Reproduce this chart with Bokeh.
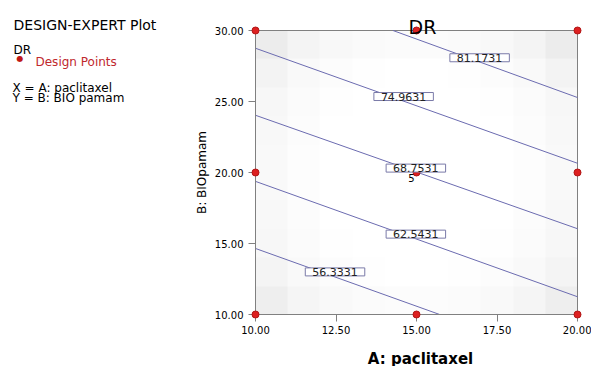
import numpy as np
from bokeh.plotting import figure
from bokeh.models import Label, Range1d, FixedTicker, NumeralTickFormatter, LinearAxis
from bokeh.embed import file_html
from bokeh.resources import INLINE

# ---- data ----
x_ticks = [10.0, 12.5, 15.0, 17.5, 20.0]
y_ticks = [10.0, 15.0, 20.0, 25.0, 30.0]
design_x = [10, 15, 20, 10, 15, 20, 10, 15, 20]
design_y = [10, 10, 10, 20, 20, 20, 30, 30, 30]
center_count = "5"
levels = [56.3331, 62.5431, 68.7531, 74.9631, 81.1731]
line_x0 = [10.0, 10.0, 10.0, 10.0, 14.27]
line_y0 = [14.65, 19.375, 24.03, 28.75, 30.0]
line_x1 = [15.72, 20.0, 20.0, 20.0, 20.0]
line_y1 = [10.0, 11.25, 16.04, 20.65, 25.28]
label_x = [12.47, 14.98, 14.98, 14.60, 16.96]
label_y = [13.0, 15.66, 20.31, 25.35, 28.08]
# light grey shading of the prediction region (rows bottom -> top)
shade = [
    [238, 245, 249, 251, 252, 252, 251, 249, 245, 238],
    [244, 249, 252, 254, 255, 255, 254, 252, 249, 244],
    [247, 251, 254, 255, 255, 255, 255, 254, 251, 247],
    [248, 252, 255, 255, 255, 255, 255, 255, 252, 248],
    [249, 253, 255, 255, 255, 255, 255, 255, 253, 249],
    [249, 253, 255, 255, 255, 255, 255, 255, 253, 249],
    [248, 252, 255, 255, 255, 255, 255, 255, 252, 248],
    [247, 251, 254, 255, 255, 255, 255, 254, 251, 247],
    [243, 249, 252, 254, 255, 255, 254, 252, 249, 243],
    [236, 244, 248, 250, 251, 251, 250, 248, 244, 236],
]

# ---- layout (pixels on the canvas) ----
W, H = 591, 366
PX_XLO, PX_XHI = 255, 577     # canvas x of the x-range ends of the plot box
PX_YHI, PX_YLO = 30, 314      # canvas y of the top / bottom of the plot box
x_lo, x_hi = x_ticks[0], x_ticks[-1]
y_lo, y_hi = y_ticks[0], y_ticks[-1]
kx = (PX_XHI - PX_XLO) / (x_hi - x_lo)
ky = (PX_YLO - PX_YHI) / (y_hi - y_lo)
xr = Range1d(x_lo - PX_XLO / kx, x_hi + (W - PX_XHI) / kx)
yr = Range1d(y_lo - (H - PX_YLO) / ky, y_hi + PX_YHI / ky)

p = figure(width=W, height=H, output_backend="svg", toolbar_location=None,
           x_range=xr, y_range=yr, x_axis_location=None, y_axis_location=None,
           min_border=0)
p.xgrid.visible = False
p.ygrid.visible = False
p.outline_line_color = None
p.background_fill_color = "white"
p.border_fill_color = "white"

g = np.array(shade, dtype=np.uint32)
rgba = (np.uint32(255) << 24) | (g << 16) | (g << 8) | g
p.image_rgba(image=[rgba], x=x_lo, y=y_lo, dw=x_hi - x_lo, dh=y_hi - y_lo)
p.quad(left=[x_lo], right=[x_hi], bottom=[y_lo], top=[y_hi], fill_color=None,
       line_color="#808080", line_width=1)

p.segment(line_x0, line_y0, line_x1, line_y1, line_color="#6b6bb0", line_width=1)

for lv, lx, ly in zip(levels, label_x, label_y):
    p.add_layout(Label(x=lx, y=ly, text=f"{lv:.4f}", text_align="center", text_baseline="middle",
                       text_font="DejaVu Sans", text_font_size="11px", text_color="#222222",
                       background_fill_color="white", border_line_color="#7a7aa8",
                       padding=dict(left=7, right=7, top=0, bottom=0)))

xaxis = LinearAxis(fixed_location=y_lo, bounds=(x_lo, x_hi))
yaxis = LinearAxis(fixed_location=x_lo, bounds=(y_lo, y_hi))
p.add_layout(xaxis, "below")
p.add_layout(yaxis, "left")
for ax, ticks in ((xaxis, x_ticks), (yaxis, y_ticks)):
    ax.ticker = FixedTicker(ticks=ticks)
    ax.formatter = NumeralTickFormatter(format="0.00")
    ax.axis_line_color = "#808080"
    ax.major_tick_line_color = "#808080"
    ax.major_tick_out = 7
    ax.major_tick_in = 0
    ax.minor_tick_line_color = None
    ax.major_label_text_font = "DejaVu Sans"
    ax.major_label_text_font_size = "10px"
    ax.major_label_text_color = "black"
xaxis.major_label_standoff = 4
yaxis.major_label_standoff = 5

p.scatter(design_x, design_y, size=7, fill_color="#dd2020", line_color="#b01515",
          level="annotation")
p.add_layout(Label(x=design_x[4], y=design_y[4], text=center_count, text_align="right",
                   text_baseline="top", x_offset=-2, y_offset=-1, level="annotation",
                   text_font="DejaVu Sans", text_font_size="10px", text_color="black"))


def sl(cx, cy, text, **kw):
    opts = dict(text_font="DejaVu Sans", text_font_size="12px", text_color="black",
                text_baseline="alphabetic")
    opts.update(kw)
    p.add_layout(Label(x=cx, y=H - cy, x_units="screen", y_units="screen", text=text, **opts))


# title and axis titles
sl(422, 26, "DR", text_font_size="19px", text_align="center")
sl(420, 358, "A: paclitaxel", text_font_size="15px",
   text_font_style="bold", text_align="center")
sl(201, 172, "B: BIOpamam", text_font_size="12px", text_align="center",
   text_baseline="middle", angle=np.pi / 2)

# info block on the left
sl(13, 24, "DESIGN-EXPERT Plot", text_font_size="14px")
sl(13, 49, "DR", text_font_size="12px")
sl(19.5, 58, "\u25cf", text_font_size="8px", text_color="#c01818", text_align="center",
   text_baseline="middle")
sl(35, 61, "Design Points", text_font_size="12px", text_color="#c0282d")
sl(12, 87, "X = A: paclitaxel")
sl(12, 97, "Y = B: BIO pamam")

open("out.html", "w").write(file_html(p, INLINE))
